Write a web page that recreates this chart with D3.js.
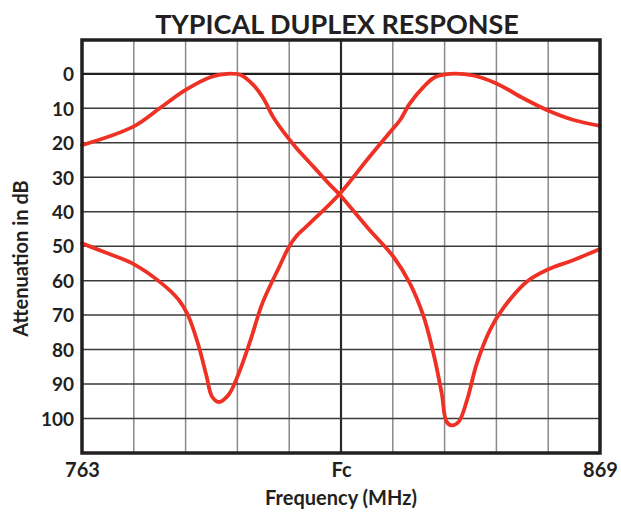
<!DOCTYPE html>
<html>
<head>
<meta charset="utf-8">
<script src="https://cdn.jsdelivr.net/npm/d3@7"></script>
<style>
  body { margin: 0; background: #fff; }
  svg text { font-family: Lato, "Open Sans", sans-serif; fill: #231f20; }
  .grid-v line { stroke: #8a8a8a; stroke-width: 1.5; }
  .grid-h line { stroke: #3a3a3a; stroke-width: 1.5; }
  .response { fill: none; stroke: #ee3124; stroke-width: 3.8; stroke-linejoin: round; stroke-linecap: round; }
</style>
</head>
<body>
<div id="chart"></div>
<script>

  // data (frequency in MHz, attenuation in dB)
  let xTickValues = [763, 816, 869];
  let xTickLabels = ["763", "Fc", "869"];
  let yTickValues = [0, 10, 20, 30, 40, 50, 60, 70, 80, 90, 100];

  let lowFreq = [763.0, 773.4, 778.9, 784.2, 789.2, 792.7, 795.6, 798.1, 800.1, 802.1, 804.2, 806.9,
                 810.4, 813.8, 815.7, 821.9, 826.7, 830.1, 832.9, 834.9, 836.6, 837.6, 838.7, 840.1,
                 841.8, 843.8, 846.5, 849.2, 854.0, 858.1, 863.6, 869.0];
  let lowAtten = [20.7, 15.4, 10.0, 4.7, 1.0, 0.0, 0.4, 3.3, 7.1, 12.5, 16.8, 21.6,
                  27.0, 32.3, 35.0, 45.4, 53.0, 60.8, 70.4, 81.0, 92.6, 100.9, 102.0, 100.9,
                  94.6, 84.0, 74.3, 68.0, 60.3, 56.9, 54.0, 50.8];

  let highFreq = [763.0, 768.1, 773.3, 779.3, 782.8, 784.8, 786.9, 788.5, 789.6, 791.0, 793.0, 795.1,
                  797.5, 799.9, 803.5, 805.2, 806.8, 809.0, 815.8, 821.3, 826.1, 828.1, 830.1, 832.9, 835.2,
                  838.3, 843.1, 847.8, 853.3, 858.1, 863.6, 869.0];
  let highAtten = [49.2, 52.0, 55.0, 60.8, 65.6, 70.4, 79.1, 87.8, 93.6, 95.2, 93.1, 86.8,
                   77.2, 66.6, 55.6, 50.6, 47.2, 44.2, 34.7, 25.0, 16.8, 13.4, 8.6, 3.8, 1.0,
                   0.0, 0.5, 2.8, 7.1, 10.5, 13.4, 15.1];

  let width = 621;
  let height = 512;

  let plot = { left: 82, right: 600, top: 40, bottom: 453 };

  let x = d3.scaleLinear().domain([763, 869]).range([plot.left, plot.right]);
  let y = d3.scaleLinear().domain([-9.8, 110]).range([plot.top, plot.bottom]);

  let svg = d3.select("#chart")
              .append("svg")
              .attr("width", width)
              .attr("height", height);

  // grid: 10 columns across the band, 10 dB rows
  let colValues = d3.range(0, 11).map(function(i) { return 763 + i * 10.6; });
  let rowValues = d3.range(0, 110, 10);

  svg.append("g")
     .attr("class", "grid-v")
     .selectAll("line")
     .data(colValues.slice(1, 10))
     .enter()
     .append("line")
     .attr("x1", function(d) { return x(d); })
     .attr("x2", function(d) { return x(d); })
     .attr("y1", plot.top)
     .attr("y2", plot.bottom)
     .style("stroke", function(d, i) { return i == 4 ? "#2a2a2a" : null; })
     .style("stroke-width", function(d, i) { return i == 4 ? 2.2 : null; });

  svg.append("g")
     .attr("class", "grid-h")
     .selectAll("line")
     .data(rowValues)
     .enter()
     .append("line")
     .attr("x1", plot.left)
     .attr("x2", plot.right)
     .attr("y1", function(d) { return y(d); })
     .attr("y2", function(d) { return y(d); })
     .style("stroke", function(d) { return d == 0 ? "#231f20" : null; })
     .style("stroke-width", function(d) { return d == 0 ? 2.2 : null; });

  // response curves
  let line = d3.line()
               .x(function(d) { return x(d[0]); })
               .y(function(d) { return y(d[1]); })
               .curve(d3.curveCatmullRom.alpha(0.5));

  let lowData = lowFreq.map(function(f, i) { return [f, lowAtten[i]]; });
  let highData = highFreq.map(function(f, i) { return [f, highAtten[i]]; });

  svg.append("g")
     .selectAll("path")
     .data([lowData, highData])
     .enter()
     .append("path")
     .attr("class", "response")
     .attr("d", line);

  // frame
  svg.append("rect")
     .attr("x", plot.left)
     .attr("y", plot.top)
     .attr("width", plot.right - plot.left)
     .attr("height", plot.bottom - plot.top)
     .attr("fill", "none")
     .attr("stroke", "#231f20")
     .attr("stroke-width", 3.5);

  // axes
  let yAxis = d3.axisLeft(y)
                .tickValues(yTickValues)
                .tickSize(0)
                .tickPadding(8);

  let yAxisG = svg.append("g")
                  .attr("transform", "translate(" + plot.left + ",0)")
                  .call(yAxis);
  yAxisG.select(".domain").remove();
  yAxisG.selectAll("text")
        .style("font-size", "19px")
        .style("font-weight", "bold")
        .attr("dy", "0.36em");

  let xAxis = d3.axisBottom(x)
                .tickValues(xTickValues)
                .tickFormat(function(d, i) { return xTickLabels[i]; })
                .tickSize(0)
                .tickPadding(8);

  let xAxisG = svg.append("g")
                  .attr("transform", "translate(0," + plot.bottom + ")")
                  .call(xAxis);
  xAxisG.select(".domain").remove();
  xAxisG.selectAll("text")
        .style("font-size", "20px")
        .style("font-weight", "bold")
        .attr("dy", "0.8em");

  // titles
  svg.append("text")
     .attr("x", (plot.left + plot.right) / 2 - 4)
     .attr("y", 34)
     .attr("text-anchor", "middle")
     .style("font-size", "27px")
     .style("font-weight", "bold")
     .text("TYPICAL DUPLEX RESPONSE");

  svg.append("text")
     .attr("x", (plot.left + plot.right) / 2)
     .attr("y", 505)
     .attr("text-anchor", "middle")
     .style("font-size", "20px")
     .style("font-weight", "bold")
     .text("Frequency (MHz)");

  svg.append("text")
     .attr("transform", "translate(28," + ((plot.top + plot.bottom) / 2 + 12) + ") rotate(-90)")
     .attr("text-anchor", "middle")
     .style("font-size", "20px")
     .style("font-weight", "bold")
     .text("Attenuation in dB");

</script>
</body>
</html>
